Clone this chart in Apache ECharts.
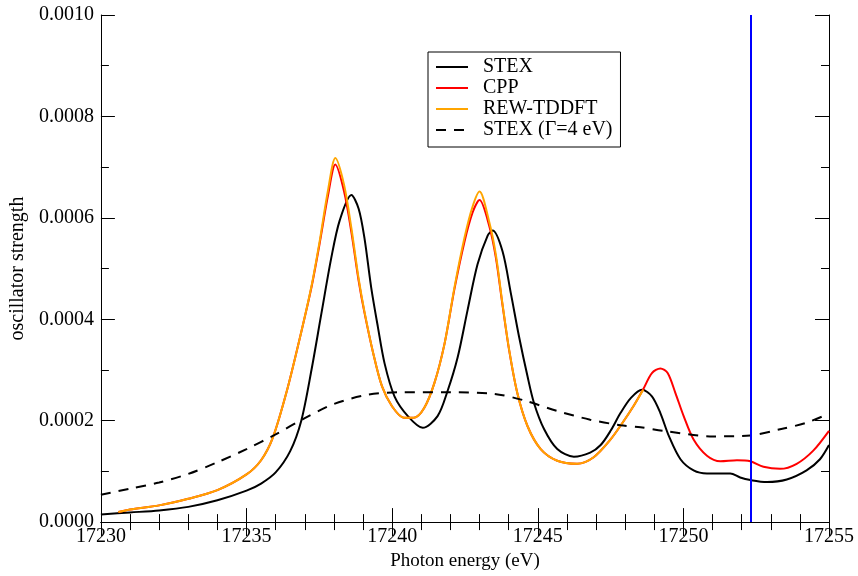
<!DOCTYPE html>
<html>
<head>
<meta charset="utf-8">
<script src="https://cdn.jsdelivr.net/npm/echarts@6/dist/echarts.min.js"></script>
<style>
html,body{margin:0;padding:0;background:#fff;}
#chart{width:858px;height:576px;}
</style>
</head>
<body>
<div id="chart"></div>
<script>
// ---- data ----
const seriesNames = ['STEX', 'CPP', 'REW-TDDFT', 'STEX (\u0393=4 eV)'];

const stexX = [17230, 17231, 17232, 17233, 17234, 17235, 17235.5, 17236, 17236.5, 17236.88, 17237.23, 17237.57, 17237.91, 17238.2, 17238.6, 17238.85, 17239.05, 17239.28, 17239.51, 17239.74, 17240.08, 17240.54, 17241.05, 17241.56, 17241.9, 17242.25, 17242.59, 17242.93, 17243.28, 17243.45, 17243.79, 17244.08, 17244.36, 17244.65, 17244.87, 17245.22, 17245.67, 17246.24, 17246.8, 17247.16, 17247.5, 17247.84, 17248.2, 17248.58, 17248.92, 17249.21, 17249.5, 17249.9, 17250.35, 17250.81, 17251.61, 17251.95, 17252.3, 17252.87, 17253.55, 17254.23, 17254.69, 17255];
const stexY = [0.000015, 0.000019, 0.000023, 0.000030, 0.000043, 0.000062, 0.000076, 0.000098, 0.000140, 0.000200, 0.000300, 0.000411, 0.000521, 0.000595, 0.000645, 0.000618, 0.000560, 0.000463, 0.000385, 0.000313, 0.000248, 0.000209, 0.000186, 0.000209, 0.000258, 0.000325, 0.000418, 0.000508, 0.000565, 0.000575, 0.000534, 0.000450, 0.000365, 0.000287, 0.000235, 0.000183, 0.000144, 0.000129, 0.000137, 0.000152, 0.000180, 0.000215, 0.000245, 0.000261, 0.000248, 0.000215, 0.000170, 0.000124, 0.000102, 0.000096, 0.000096, 0.000088, 0.000083, 0.000079, 0.000084, 0.000102, 0.000124, 0.000152];

const cppX = [17230.6, 17231, 17232, 17233, 17234, 17235, 17235.5, 17235.9, 17236.4, 17236.88, 17237.23, 17237.5, 17237.8, 17238.05, 17238.35, 17238.6, 17238.85, 17239.05, 17239.35, 17239.65, 17240.0, 17240.4, 17240.75, 17241.1, 17241.45, 17241.8, 17242.14, 17242.48, 17242.76, 17243.0, 17243.33, 17243.56, 17243.79, 17244.02, 17244.3, 17244.65, 17245.1, 17245.67, 17246.35, 17246.92, 17247.5, 17247.9, 17248.3, 17248.62, 17248.92, 17249.21, 17249.46, 17249.73, 17250.01, 17250.35, 17250.81, 17251.27, 17251.84, 17252.3, 17252.75, 17253.32, 17253.89, 17254.46, 17255];
const cppY = [0.000020, 0.000025, 0.000033, 0.000046, 0.000063, 0.000094, 0.000122, 0.000166, 0.000262, 0.000375, 0.000463, 0.000546, 0.000645, 0.000705, 0.000652, 0.000572, 0.000476, 0.000413, 0.000333, 0.000268, 0.000228, 0.000206, 0.000206, 0.000225, 0.000274, 0.000352, 0.000460, 0.000552, 0.000610, 0.000635, 0.000585, 0.000522, 0.000428, 0.000338, 0.000254, 0.000189, 0.000144, 0.000121, 0.000115, 0.000128, 0.000163, 0.000195, 0.000230, 0.000262, 0.000294, 0.000303, 0.000294, 0.000254, 0.000209, 0.000163, 0.000131, 0.000120, 0.000122, 0.000120, 0.000109, 0.000105, 0.000115, 0.000141, 0.000180];

const rewX = [17230.6, 17231, 17232, 17233, 17234, 17235, 17235.5, 17235.9, 17236.4, 17236.88, 17237.23, 17237.5, 17237.8, 17238.05, 17238.35, 17238.6, 17238.85, 17239.05, 17239.35, 17239.65, 17240.0, 17240.4, 17240.75, 17241.1, 17241.45, 17241.8, 17242.14, 17242.48, 17242.76, 17243.0, 17243.33, 17243.56, 17243.79, 17244.02, 17244.3, 17244.65, 17245.1, 17245.67, 17246.35, 17246.92, 17247.5, 17247.9, 17248.3, 17248.62];
const rewY = [0.000020, 0.000025, 0.000033, 0.000046, 0.000063, 0.000094, 0.000122, 0.000166, 0.000262, 0.000375, 0.000465, 0.000550, 0.000655, 0.000718, 0.000665, 0.000580, 0.000480, 0.000415, 0.000333, 0.000268, 0.000228, 0.000206, 0.000206, 0.000225, 0.000274, 0.000352, 0.000463, 0.000560, 0.000622, 0.000652, 0.000593, 0.000528, 0.000430, 0.000339, 0.000254, 0.000189, 0.000144, 0.000121, 0.000115, 0.000128, 0.000163, 0.000195, 0.000230, 0.000261];

const broadX = [17230, 17231, 17232, 17233, 17234, 17235, 17236, 17237, 17238, 17239.16, 17240.3, 17242.0, 17243.5, 17244.53, 17245.67, 17246.8, 17247.84, 17248.53, 17249.32, 17251.03, 17252.3, 17253.32, 17254.23, 17255];
const broadY = [0.000054, 0.000066, 0.000078, 0.000095, 0.000118, 0.000144, 0.000173, 0.000205, 0.000233, 0.000251, 0.000256, 0.000256, 0.000253, 0.000240, 0.000219, 0.000202, 0.000191, 0.000187, 0.000180, 0.000169, 0.000171, 0.000183, 0.000196, 0.000214];

const markerX = 17252.3;   // blue vertical line

const xMin = 17230, xMax = 17255, xStep = 5;
const yMin = 0, yMax = 0.001, yStep = 0.0002;

// ---- chart ----
const zip = (xs, ys) => xs.map((x, i) => [x, ys[i]]);
const FONT = 'Liberation Serif';

const tickCommon = {
  axisLine: { show: true, lineStyle: { color: '#000', width: 1 } },
  axisTick: { show: true, inside: true, length: 14, lineStyle: { color: '#000', width: 1 } },
  splitLine: { show: false }
};
const xMinor = { minorTick: { show: true, splitNumber: 5, length: 8, lineStyle: { color: '#000', width: 1 } } };
const yMinor = { minorTick: { show: true, splitNumber: 2, length: 8, lineStyle: { color: '#000', width: 1 } } };

function lineSeries(name, xs, ys, color, type) {
  return {
    name: name, type: 'line', data: zip(xs, ys),
    showSymbol: false, symbol: 'none', smooth: 0.3,
    lineStyle: { color: color, width: 2, type: type || 'solid' },
    itemStyle: { color: color }
  };
}

const s0 = lineSeries(seriesNames[0], stexX, stexY, '#000000');
s0.markLine = {
  silent: true, symbol: ['none', 'none'], label: { show: false },
  lineStyle: { color: '#0000ff', width: 2, type: 'solid' },
  data: [{ xAxis: markerX }]
};

const option = {
  animation: false,
  backgroundColor: '#fff',
  textStyle: { fontFamily: FONT, color: '#000' },
  grid: { left: 99, right: 29, top: 15, bottom: 49, containLabel: false },
  legend: {
    data: seriesNames,
    orient: 'vertical',
    left: 428,
    top: 52,
    padding: [5, 8, 7, 7],
    itemGap: 1,
    itemWidth: 32,
    itemHeight: 14,
    itemStyle: { opacity: 0 },
    borderColor: '#000',
    borderWidth: 1,
    backgroundColor: '#fff',
    textStyle: { fontFamily: FONT, fontSize: 20, color: '#000', lineHeight: 20, padding: [0, 0, 0, 10] }
  },
  xAxis: [
    Object.assign({
      type: 'value', min: xMin, max: xMax, interval: xStep, position: 'bottom',
      name: 'Photon energy (eV)', nameLocation: 'middle', nameGap: 21,
      nameTextStyle: { fontFamily: FONT, fontSize: 19, color: '#000' },
      axisLabel: { show: true, fontFamily: FONT, fontSize: 20, color: '#000', margin: 5,
        formatter: v => String(v) }
    }, tickCommon, xMinor),
    Object.assign({
      type: 'value', min: xMin, max: xMax, interval: xStep, position: 'top',
      axisLabel: { show: false }
    }, tickCommon, xMinor)
  ],
  yAxis: [
    Object.assign({
      type: 'value', min: yMin, max: yMax, interval: yStep, position: 'left',
      name: 'oscillator strength', nameLocation: 'middle', nameGap: 67, nameRotate: 90,
      nameTextStyle: { fontFamily: FONT, fontSize: 20, color: '#000' },
      axisLabel: { show: true, fontFamily: FONT, fontSize: 20, color: '#000', margin: 7,
        formatter: v => v.toFixed(4) }
    }, tickCommon, yMinor),
    Object.assign({
      type: 'value', min: yMin, max: yMax, interval: yStep, position: 'right',
      axisLabel: { show: false }
    }, tickCommon, yMinor)
  ],
  series: [
    s0,
    lineSeries(seriesNames[1], cppX, cppY, '#ff0000'),
    lineSeries(seriesNames[2], rewX, rewY, '#ffa500'),
    lineSeries(seriesNames[3], broadX, broadY, '#000000', [10, 8])
  ]
};

const chart = echarts.init(document.getElementById('chart'), null, { renderer: 'canvas' });
chart.setOption(option);
</script>
</body>
</html>
